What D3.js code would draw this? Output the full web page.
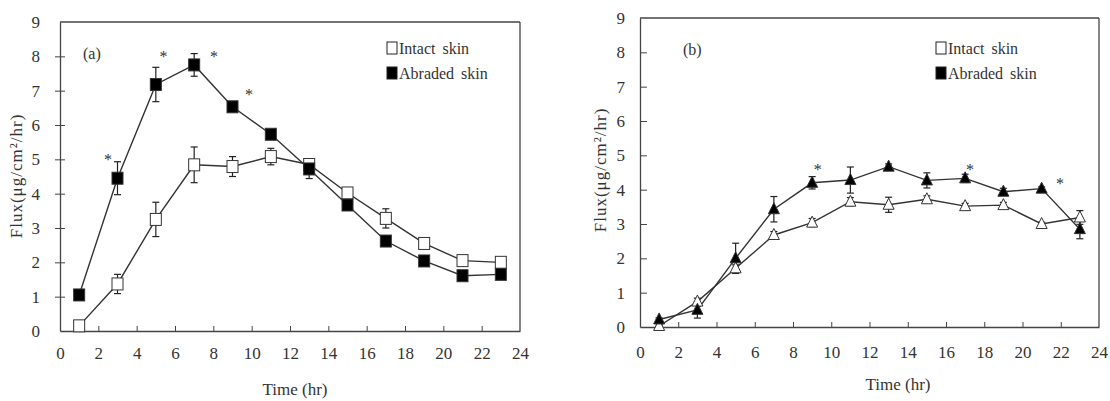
<!DOCTYPE html>
<html>
<head>
<meta charset="utf-8">
<script src="https://cdn.jsdelivr.net/npm/d3@7"></script>
<style>
  html, body { margin: 0; padding: 0; background: #fff; }
  svg { display: block; }
</style>
</head>
<body>
<svg id="chart" width="1110" height="401" font-family="Liberation Serif, Times New Roman, serif"></svg>
<script>
// ---------------- data ----------------
const times = [1, 3, 5, 7, 9, 11, 13, 15, 17, 19, 21, 23];
const xTicks = [0, 2, 4, 6, 8, 10, 12, 14, 16, 18, 20, 22, 24];
const yTicks = [0, 1, 2, 3, 4, 5, 6, 7, 8, 9];
const seriesNames = ["Intact skin", "Abraded skin"];

// Panel (a)
const aIntact      = [0.15, 1.37, 3.25, 4.84, 4.79, 5.08, 4.85, 4.02, 3.28, 2.55, 2.05, 2.00];
const aIntactErr   = [0.03, 0.28, 0.50, 0.52, 0.29, 0.24, 0.10, 0.05, 0.28, 0.05, 0.05, 0.05];
const aAbraded     = [1.05, 4.45, 7.18, 7.75, 6.53, 5.73, 4.72, 3.67, 2.62, 2.04, 1.61, 1.65];
const aAbradedErr  = [0.15, 0.48, 0.50, 0.33, 0.08, 0.10, 0.28, 0.05, 0.05, 0.05, 0.05, 0.05];
const aStars = [[2.5, 5.08], [5.4, 8.07], [8.03, 8.07], [9.86, 6.97]];

// Panel (b)
const bIntact      = [0.03, 0.74, 1.71, 2.68, 3.04, 3.65, 3.56, 3.72, 3.52, 3.55, 3.00, 3.19];
const bIntactErr   = [0.02, 0.10, 0.10, 0.10, 0.12, 0.12, 0.22, 0.10, 0.08, 0.08, 0.05, 0.20];
const bAbraded     = [0.22, 0.50, 2.00, 3.43, 4.20, 4.28, 4.67, 4.27, 4.33, 3.94, 4.03, 2.85];
const bAbradedErr  = [0.05, 0.24, 0.44, 0.37, 0.18, 0.38, 0.08, 0.22, 0.12, 0.10, 0.05, 0.28];
const bStars = [[9.29, 4.67], [17.25, 4.65], [21.96, 4.26]];

// ---------------- drawing ----------------
const svg = d3.select("#chart");
const AX = "#444";
const FONT = "Liberation Serif";
const TXT = "#333";

function panel(cfg) {
  const x = d3.scaleLinear().domain([0, 24]).range([cfg.x0, cfg.x1]);
  const y = d3.scaleLinear().domain([0, 9]).range([cfg.y0, cfg.y1]);
  const g = svg.append("g");

  g.append("line").attr("x1", x(0)).attr("x2", x(24)).attr("y1", y(9)).attr("y2", y(9))
    .attr("stroke", AX).attr("stroke-width", 1.3);
  g.append("line").attr("x1", x(24)).attr("x2", x(24)).attr("y1", y(9)).attr("y2", y(0))
    .attr("stroke", AX).attr("stroke-width", 1.3);

  const xa = g.append("g").attr("transform", `translate(0,${y(0)})`)
    .call(d3.axisBottom(x).tickValues(xTicks).tickSizeInner(-5).tickSizeOuter(0).tickPadding(cfg.xPad));
  const ya = g.append("g").attr("transform", `translate(${x(0)},0)`)
    .call(d3.axisLeft(y).tickValues(yTicks).tickSizeInner(cfg.yTickIn).tickSizeOuter(0).tickPadding(cfg.yPad));
  [xa, ya].forEach(a => {
    a.attr("font-family", FONT).attr("font-size", 17);
    a.select(".domain").attr("stroke", AX).attr("stroke-width", 1.3);
    a.selectAll(".tick line").attr("stroke", AX).attr("stroke-width", 1);
    a.selectAll(".tick text").attr("font-family", FONT).attr("font-size", 17).attr("fill", TXT);
  });
  if (cfg.yTickCross) {
    ya.selectAll(".tick").append("line").attr("x1", -5).attr("x2", 0).attr("stroke", AX);
  }
  xa.selectAll(".tick").filter(d => d === 0 || d === 24).select("line").remove();
  ya.selectAll(".tick").filter(d => d === 0 || d === 9).selectAll("line").remove();

  g.append("text").attr("x", cfg.xTitleX).attr("y", cfg.xTitleY).attr("text-anchor", "middle")
    .attr("font-family", FONT).attr("font-size", 17).attr("fill", TXT).text("Time (hr)");
  g.append("text").attr("transform", `translate(${cfg.yTitleX},${cfg.yTitleY}) rotate(-90)`)
    .attr("text-anchor", "middle").attr("font-family", FONT).attr("font-size", 17)
    .attr("letter-spacing", 1).attr("fill", TXT)
    .text("Flux(μg/cm²/hr)");

  g.append("text").attr("x", cfg.labX).attr("y", cfg.labY).attr("font-family", FONT)
    .attr("font-size", 16).attr("fill", TXT).text(cfg.label);

  const line = d3.line().x((d, i) => x(times[i])).y(d => y(d));
  const series = [
    { v: cfg.intact, e: cfg.intactErr, fill: "#fff" },
    { v: cfg.abraded, e: cfg.abradedErr, fill: "#000" }
  ];
  series.forEach(s => {
    g.append("path").datum(s.v).attr("d", line).attr("fill", "none")
      .attr("stroke", "#333").attr("stroke-width", 1.4);
  });
  series.forEach(s => {
    const eb = g.append("g").attr("stroke", "#222").attr("stroke-width", 1.2);
    s.v.forEach((v, i) => {
      const cx = x(times[i]), t = y(v + s.e[i]), b = y(v - s.e[i]);
      eb.append("line").attr("x1", cx).attr("x2", cx).attr("y1", t).attr("y2", b);
      eb.append("line").attr("x1", cx - 3.5).attr("x2", cx + 3.5).attr("y1", t).attr("y2", t);
      eb.append("line").attr("x1", cx - 3.5).attr("x2", cx + 3.5).attr("y1", b).attr("y2", b);
    });
  });
  series.forEach(s => {
    s.v.forEach((v, i) => {
      const cx = x(times[i]), cy = y(v);
      if (cfg.marker === "square") {
        g.append("rect").attr("x", cx - 5.5).attr("y", cy - 6).attr("width", 11).attr("height", 12)
          .attr("fill", s.fill).attr("stroke", "#333").attr("stroke-width", 1);
      } else {
        g.append("path")
          .attr("d", `M${cx},${cy - 6.5}L${cx + 5.5},${cy + 4.5}L${cx - 5.5},${cy + 4.5}Z`)
          .attr("fill", s.fill).attr("stroke", "#333").attr("stroke-width", 1);
      }
    });
  });
  cfg.stars.forEach(p => {
    g.append("text").attr("x", x(p[0])).attr("y", y(p[1]) + 8).attr("text-anchor", "middle")
      .attr("font-family", FONT).attr("font-size", 16).attr("fill", TXT).text("*");
  });

  const lg = g.append("g");
  seriesNames.forEach((n, i) => {
    const ly = cfg.legY + i * 25;
    lg.append("rect").attr("x", cfg.legX).attr("y", ly - 12).attr("width", 10).attr("height", 12)
      .attr("fill", i === 0 ? "#fff" : "#000").attr("stroke", "#222").attr("stroke-width", 1);
    lg.append("text").attr("x", cfg.legX + 12).attr("y", ly).attr("font-family", FONT)
      .attr("font-size", 16).attr("fill", TXT).attr("word-spacing", 3).text(n);
  });
}

panel({
  x0: 60, x1: 520, y0: 331, y1: 22, label: "(a)", labX: 83, labY: 59,
  intact: aIntact, intactErr: aIntactErr, abraded: aAbraded, abradedErr: aAbradedErr,
  stars: aStars, marker: "square",
  xPad: 16, yPad: 20, yTickIn: -5, yTickCross: true,
  xTitleX: 295, xTitleY: 395, yTitleX: 22, yTitleY: 176,
  legX: 387, legY: 54
});
panel({
  x0: 640, x1: 1099, y0: 327, y1: 18, label: "(b)", labX: 683, labY: 55,
  intact: bIntact, intactErr: bIntactErr, abraded: bAbraded, abradedErr: bAbradedErr,
  stars: bStars, marker: "triangle",
  xPad: 19, yPad: 15, yTickIn: -7, yTickCross: false,
  xTitleX: 898, xTitleY: 390, yTitleX: 606, yTitleY: 170,
  legX: 936, legY: 54
});
</script>
</body>
</html>
